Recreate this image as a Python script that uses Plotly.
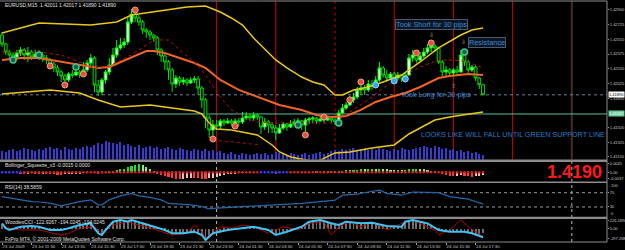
import plotly.graph_objects as go

# ---------------- data (EURUSD M15, 23-24 Jul 2009) ----------------
bars = list(range(131))
first_open = 1.42602
close = [1.42495, 1.42400, 1.42364, 1.42340, 1.42388, 1.42424, 1.42364, 1.42400, 1.42340, 1.42376,
         1.42364, 1.42329, 1.42305, 1.42257, 1.42210, 1.42162, 1.42114, 1.42067, 1.42138, 1.42126,
         1.42162, 1.42138, 1.42186, 1.42269, 1.42329, 1.42007, 1.41924, 1.42067, 1.42162, 1.42245,
         1.42364, 1.42448, 1.42483, 1.42519, 1.42757, 1.42852, 1.42805, 1.42757, 1.42662, 1.42638,
         1.42602, 1.42567, 1.42424, 1.42352, 1.42281, 1.42186, 1.42019, 1.42090, 1.42043, 1.42067,
         1.42031, 1.42067, 1.42079, 1.41971, 1.41829, 1.41614, 1.41471, 1.41531, 1.41519, 1.41579,
         1.41555, 1.41579, 1.41555, 1.41579, 1.41567, 1.41614, 1.41638, 1.41614, 1.41650, 1.41626,
         1.41507, 1.41567, 1.41531, 1.41495, 1.41436, 1.41495, 1.41543, 1.41507, 1.41543, 1.41567,
         1.41579, 1.41531, 1.41590, 1.41602, 1.41614, 1.41579, 1.41602, 1.41590, 1.41614, 1.41590,
         1.41567, 1.41674, 1.41733, 1.41769, 1.41829, 1.41864, 1.41948, 1.41971, 1.41948, 1.42019,
         1.41995, 1.42067, 1.42210, 1.42126, 1.42090, 1.42138, 1.42090, 1.42126, 1.42090, 1.42126,
         1.42329, 1.42364, 1.42305, 1.42352, 1.42400, 1.42448, 1.42471, 1.42448, 1.42281, 1.42162,
         1.42186, 1.42150, 1.42186, 1.42162, 1.42364, 1.42281, 1.42186, 1.42221, 1.42090, 1.42011,
         1.41890]
high = [1.42638, 1.42507, 1.42424, 1.42400, 1.42424, 1.42460, 1.42448, 1.42460, 1.42424, 1.42424,
        1.42424, 1.42400, 1.42364, 1.42329, 1.42281, 1.42245, 1.42186, 1.42138, 1.42162, 1.42186,
        1.42210, 1.42186, 1.42281, 1.42305, 1.42376, 1.42352, 1.42067, 1.42090, 1.42186, 1.42329,
        1.42448, 1.42543, 1.42567, 1.42567, 1.42805, 1.42912, 1.42900, 1.42840, 1.42781, 1.42686,
        1.42662, 1.42614, 1.42590, 1.42448, 1.42376, 1.42305, 1.42210, 1.42126, 1.42114, 1.42102,
        1.42090, 1.42102, 1.42114, 1.42114, 1.41995, 1.41852, 1.41650, 1.41590, 1.41590, 1.41602,
        1.41602, 1.41614, 1.41602, 1.41614, 1.41614, 1.41686, 1.41686, 1.41674, 1.41686, 1.41674,
        1.41638, 1.41614, 1.41590, 1.41567, 1.41531, 1.41543, 1.41567, 1.41555, 1.41590, 1.41602,
        1.41614, 1.41590, 1.41614, 1.41626, 1.41638, 1.41626, 1.41638, 1.41626, 1.41638, 1.41626,
        1.41626, 1.41710, 1.41781, 1.41805, 1.41876, 1.41912, 1.41983, 1.42043, 1.42007, 1.42067,
        1.42067, 1.42114, 1.42281, 1.42233, 1.42186, 1.42162, 1.42162, 1.42162, 1.42138, 1.42162,
        1.42376, 1.42424, 1.42388, 1.42400, 1.42448, 1.42495, 1.42519, 1.42495, 1.42460, 1.42305,
        1.42233, 1.42210, 1.42210, 1.42233, 1.42424, 1.42388, 1.42305, 1.42245, 1.42245, 1.42102,
        1.42017]
low = [1.42460, 1.42364, 1.42329, 1.42281, 1.42305, 1.42352, 1.42305, 1.42281, 1.42305, 1.42329,
       1.42305, 1.42281, 1.42257, 1.42210, 1.42162, 1.42114, 1.42043, 1.41971, 1.42043, 1.42090,
       1.42114, 1.42090, 1.42114, 1.42162, 1.42233, 1.41924, 1.41876, 1.41888, 1.42019, 1.42126,
       1.42233, 1.42329, 1.42424, 1.42448, 1.42483, 1.42733, 1.42757, 1.42710, 1.42614, 1.42567,
       1.42543, 1.42519, 1.42364, 1.42281, 1.42186, 1.42067, 1.41924, 1.41971, 1.41995, 1.42007,
       1.41995, 1.42019, 1.42031, 1.41888, 1.41733, 1.41495, 1.41376, 1.41340, 1.41471, 1.41471,
       1.41519, 1.41543, 1.41519, 1.41531, 1.41519, 1.41543, 1.41590, 1.41579, 1.41590, 1.41590,
       1.41424, 1.41471, 1.41436, 1.41436, 1.41352, 1.41424, 1.41471, 1.41460, 1.41495, 1.41519,
       1.41531, 1.41471, 1.41412, 1.41543, 1.41555, 1.41543, 1.41567, 1.41555, 1.41579, 1.41555,
       1.41531, 1.41519, 1.41662, 1.41710, 1.41757, 1.41793, 1.41840, 1.41888, 1.41888, 1.41924,
       1.41948, 1.41971, 1.42043, 1.42090, 1.42043, 1.42067, 1.42043, 1.42067, 1.42043, 1.42067,
       1.42114, 1.42281, 1.42269, 1.42281, 1.42329, 1.42376, 1.42400, 1.42400, 1.42257, 1.42114,
       1.42114, 1.42102, 1.42126, 1.42126, 1.42150, 1.42233, 1.42150, 1.42162, 1.42055, 1.41960,
       1.41890]
opens = [first_open] + close[:-1]

volume = [320, 280, 360, 400, 320, 360, 440, 400, 360, 320,
          400, 360, 440, 480, 400, 440, 360, 480, 400, 360,
          440, 400, 480, 520, 480, 560, 640, 600, 720, 680,
          640, 600, 680, 560, 600, 520, 480, 560, 440, 480,
          520, 440, 480, 400, 440, 480, 400, 360, 440, 400,
          360, 320, 400, 360, 320, 400, 320, 360, 280, 320,
          240, 200, 280, 200, 160, 240, 200, 160, 200, 240,
          200, 240, 160, 200, 280, 240, 200, 160, 240, 200,
          160, 200, 240, 160, 200, 240, 280, 200, 240, 320,
          360, 320, 400, 360, 400, 440, 360, 400, 440, 360,
          400, 360, 440, 400, 360, 320, 400, 360, 440, 400,
          360, 400, 440, 480, 520, 480, 440, 520, 480, 400,
          440, 360, 400, 320, 360, 280, 320, 240, 280, 200,
          160]

upper_i = [0, 10, 24, 31, 35, 45, 50, 55, 59, 62, 65, 68, 72, 74, 77, 81, 84, 87, 90, 92, 95, 99, 103, 108, 113, 118, 124, 127, 130]
upper_v = [1.42626, 1.42745, 1.42721, 1.42757, 1.42840, 1.42900, 1.42936, 1.42948, 1.42876, 1.42805, 1.42721, 1.42567,
           1.42400, 1.42305, 1.42210, 1.42102, 1.42043, 1.42007, 1.41888, 1.41888, 1.41948, 1.41983, 1.42043,
           1.42126, 1.42281, 1.42448, 1.42602, 1.42662, 1.42686]
lower_i = [0, 13, 21, 26, 32, 40, 46, 52, 54, 56, 58, 62, 69, 73, 75, 78, 85, 88, 90, 94, 100, 106, 110, 113, 117, 121, 127, 130]
lower_v = [1.41900, 1.41948, 1.41912, 1.41829, 1.41745, 1.41769, 1.41733, 1.41698, 1.41662, 1.41555, 1.41483, 1.41471,
           1.41412, 1.41293, 1.41210, 1.41150, 1.41090, 1.41150, 1.41198, 1.41210, 1.41257, 1.41293, 1.41424,
           1.41495, 1.41590, 1.41626, 1.41662, 1.41686]
mid_i = [0, 5, 10, 16, 21, 26, 29, 32, 35, 39, 41, 44, 48, 52, 55, 59, 64, 70, 75, 81, 85, 89, 93, 97, 101, 105, 109, 113, 118, 121, 126, 130]
mid_v = [1.42305, 1.42329, 1.42329, 1.42281, 1.42245, 1.42210, 1.42221, 1.42281, 1.42340, 1.42412, 1.42412, 1.42388,
         1.42329, 1.42269, 1.42210, 1.42067, 1.41948, 1.41852, 1.41769, 1.41710, 1.41650, 1.41626, 1.41638, 1.41710,
         1.41805, 1.41864, 1.41912, 1.41983, 1.42090, 1.42114, 1.42138, 1.42126]
ma_i = [0, 10, 16, 21, 25, 29, 35, 39, 41, 45, 48, 52, 55, 59, 62, 67, 72, 81, 87, 90, 94, 99, 103, 108, 113, 118, 122, 126, 130]
ma_v = [1.42400, 1.42400, 1.42364, 1.42281, 1.42210, 1.42233, 1.42364, 1.42483, 1.42543, 1.42543, 1.42424, 1.42281,
        1.42126, 1.41864, 1.41710, 1.41590, 1.41555, 1.41555, 1.41555, 1.41555, 1.41686, 1.41829, 1.41971, 1.42102,
        1.42221, 1.42305, 1.42305, 1.42281, 1.42210]
stop_i = [57, 70]
stop_v = [1.41352, 1.41293]

red_mk_i = [13, 17, 22, 36, 57, 63, 82, 87, 94, 97, 112, 116]
red_mk_v = [1.42233, 1.42007, 1.42138, 1.42900, 1.41364, 1.41519, 1.41412, 1.41626, 1.41829, 1.42043, 1.42388, 1.42507]
green_mk_i = [3, 10, 20, 80, 91, 125]
green_mk_v = [1.42305, 1.42364, 1.42221, 1.41531, 1.41555, 1.42400]
blue_mk_i = [101, 106, 109]
blue_mk_v = [1.42007, 1.42055, 1.42079]

current_price = 1.41890
support_price = 1.41662
red_vlines = [58, 74, 106, 122, 138]
red_dotted_vlines = [90]
day_separators = [58, 154]

squeeze = [-0.0003, -0.0002, -0.0003, -0.0004, -0.0003, -0.0005, -0.0006, -0.0005, -0.0004, -0.0006,
           -0.0008, -0.0007, -0.0009, -0.0011, -0.0012, -0.0013, -0.0014, -0.0012, -0.0010, -0.0008,
           -0.0007, -0.0005, -0.0004, -0.0003, -0.0002, -0.0004, -0.0006, -0.0004, -0.0002, 0.0002,
           0.0006, 0.0010, 0.0015, 0.0020, 0.0028, 0.0036, 0.0042, 0.0045, 0.0040, 0.0030,
           0.0018, 0.0006, -0.0006, -0.0014, -0.0022, -0.0028, -0.0033, -0.0036, -0.0037, -0.0035,
           -0.0033, -0.0032, -0.0033, -0.0034, -0.0035, -0.0036, -0.0034, -0.0030, -0.0026, -0.0020,
           -0.0015, -0.0011, -0.0008, -0.0006, -0.0004, -0.0003, -0.0003, -0.0002, -0.0002, -0.0003,
           -0.0004, -0.0003, -0.0003, -0.0004, -0.0005, -0.0004, -0.0003, -0.0003, -0.0002, -0.0002,
           -0.0002, -0.0001, -0.0001, 0.0001, 0.0001, 0.0002, 0.0001, 0.0002, 0.0002, 0.0003,
           0.0004, 0.0006, 0.0008, 0.0010, 0.0012, 0.0013, 0.0014, 0.0016, 0.0015, 0.0017,
           0.0018, 0.0016, 0.0019, 0.0017, 0.0015, 0.0014, 0.0012, 0.0013, 0.0011, 0.0012,
           0.0016, 0.0018, 0.0019, 0.0017, 0.0015, 0.0012, 0.0008, 0.0004, -0.0002, -0.0008,
           -0.0014, -0.0018, -0.0022, -0.0020, -0.0016, -0.0018, -0.0022, -0.0024, -0.0020, -0.0018,
           -0.0015]
squeeze_on = set(list(range(0, 6)) + list(range(70, 78)))

rsi_i = [0, 2, 5, 8, 10, 13, 16, 18, 21, 24, 26, 27, 29, 32, 35, 37, 40, 43, 45, 48, 51, 54, 56, 58, 62,
         67, 72, 76, 81, 84, 90, 92, 96, 99, 102, 104, 108, 111, 115, 118, 121, 124, 126, 128, 130]
rsi_v = [58.8, 55, 50, 45, 44, 41, 33, 38, 45, 50, 36, 36, 50, 61, 68, 61, 57, 50, 40, 38, 36, 31, 25, 27, 29,
         33, 35, 38, 40, 43, 49, 63, 66, 72, 77, 68, 63, 72, 72, 70, 59, 55, 52, 45, 38.6]

cci_hist = [150, 60, -30, 0, 40, 60, 70, 75, 80, 70, 60, 30, 0, -30, -40, -40, -40, -20, 10, 50,
            90, 110, 130, 150, 150, 20, -130, -180, -40, 100, 200, 230, 250, 220, 210, 250, 230, 200, 160, 120,
            90, 60, 30, 0, -40, -90, -130, -140, -135, -130, -110, -95, -90, -140, -190, -320, -250, -140, -100, -70,
            -50, -40, -20, 0, 10, 30, 50, 60, 55, 20, -20, -40, -60, -120, -180, -150, -100, -90, -40, 10,
            50, 60, 130, 200, 230, 250, 250, 220, 180, 150, 110, 110, 160, 200, 190, 180, 170, 160, 165, 170,
            175, 160, 130, 100, 80, 70, 65, 60, 60, 200, 230, 250, 230, 200, 180, 150, 100, 50, -40, -60,
            -80, -90, -90, -85, -90, -90, -100, -130, -160, -200, -123]
cci_i = [0, 1, 2, 5, 8, 10, 13, 16, 18, 21, 24, 26, 27, 28, 30, 32, 34, 35, 38, 41, 44, 46, 49, 52, 54,
         55, 57, 61, 64, 68, 72, 74, 77, 81, 83, 86, 89, 91, 93, 97, 100, 104, 108, 109, 111, 115, 118, 121, 125, 127, 130]
cci_v = [157, 12, -38, 58, 79, 58, -38, -38, 12, 108, 157, -134, -184, -38, 204, 254, 204, 254, 157, 58, -38, -134, -134, -87, -184,
         -329, -134, -38, 12, 58, -38, -184, -87, 58, 204, 254, 157, 108, 204, 157, 175, 79, 58, 204, 254, 157, -38, -87, -87, -134, -251]
tcci_i = [0, 2, 5, 10, 16, 18, 21, 25, 27, 30, 34, 35, 39, 43, 46, 50, 52, 54, 55, 59, 62, 65, 68, 72, 76,
          80, 83, 87, 89, 91, 94, 97, 100, 104, 107, 109, 111, 113, 117, 118, 121, 124, 126, 128, 130]
tcci_v = [108, 12, -38, -38, -184, -134, 12, 58, -134, 108, 204, 157, 58, -87, -184, -134, 108, -87, -280, 58, 12, 108, 58, -134, 58,
          -38, 157, 204, -184, 58, 204, 58, 204, -38, 108, 204, 254, 157, -38, -184, -38, 254, 58, -87, -233]

time_idx = [0, 8, 16, 24, 32, 40, 48, 56, 64, 72, 80, 88, 96, 104, 112, 120, 128]
time_lbl = ["23 Jul 2009", "23 Jul 11:30", "23 Jul 13:30", "23 Jul 15:30", "23 Jul 17:30", "23 Jul 19:30",
            "23 Jul 21:30", "23 Jul 23:30", "24 Jul 01:30", "24 Jul 03:30", "24 Jul 05:30", "24 Jul 07:30",
            "24 Jul 09:30", "24 Jul 11:30", "24 Jul 13:30", "24 Jul 15:30", "24 Jul 17:30"]
price_ticks = [1.42900, 1.42725, 1.42550, 1.42375, 1.42200, 1.42025, 1.41850, 1.41500, 1.41325, 1.41150]

# ---------------- layout helpers ----------------
W, H = 625, 250
PL, PR, PT, PB = 0, 607, 1, 242


def pxx(x):
    return (x - PL) / (PR - PL)


def pyy(y):
    return (PB - y) / (PB - PT)


dom_main = [pyy(159.5), 1.0]
dom_sq = [pyy(181.5), pyy(162)]
dom_rsi = [pyy(216.8), pyy(183)]
dom_cci = [0.0, pyy(219)]
XR = [-0.5405, 163.51]
FONT = "Liberation Sans, Arial, sans-serif"
LBL = "#c8c8c8"

fig = go.Figure()

# volumes (base axis of main window)
fig.add_trace(go.Bar(x=bars, y=volume, xaxis="x", yaxis="y", width=0.3,
                     marker=dict(color="#3a3ad0", line=dict(width=0))))
# bands and averages
fig.add_trace(go.Scatter(x=upper_i, y=upper_v, xaxis="x", yaxis="y5", mode="lines",
                         line=dict(color="#e8c81c", width=1.5)))
fig.add_trace(go.Scatter(x=lower_i, y=lower_v, xaxis="x", yaxis="y5", mode="lines",
                         line=dict(color="#e8c81c", width=1.5)))
fig.add_trace(go.Scatter(x=mid_i, y=mid_v, xaxis="x", yaxis="y5", mode="lines",
                         line=dict(color="#f06428", width=2)))
fig.add_trace(go.Scatter(x=ma_i, y=ma_v, xaxis="x", yaxis="y5", mode="lines",
                         line=dict(color="#c01010", width=1, dash="dot")))
fig.add_trace(go.Scatter(x=stop_i, y=stop_v, xaxis="x", yaxis="y5", mode="lines",
                         line=dict(color="#a01010", width=1, dash="dot")))
# candles
fig.add_trace(go.Candlestick(x=bars, open=opens, high=high, low=low, close=close,
                             xaxis="x", yaxis="y5", whiskerwidth=0,
                             increasing=dict(line=dict(color="#00ff00", width=1), fillcolor="#f4fff4"),
                             decreasing=dict(line=dict(color="#00e000", width=1), fillcolor="#000000")))
# signal markers
fig.add_trace(go.Scatter(x=red_mk_i, y=red_mk_v, xaxis="x", yaxis="y5", mode="markers",
                         marker=dict(size=6, color="#d9553f", line=dict(color="#ff9a88", width=1))))
fig.add_trace(go.Scatter(x=green_mk_i, y=green_mk_v, xaxis="x", yaxis="y5", mode="markers",
                         marker=dict(size=6, color="#1f5f4a", line=dict(color="#3fc48a", width=1.5))))
fig.add_trace(go.Scatter(x=blue_mk_i, y=blue_mk_v, xaxis="x", yaxis="y5", mode="markers",
                         marker=dict(size=6, color="#3aa6e8", line=dict(color="#8fd4ff", width=1))))

# Bollinger squeeze histogram
sq_col = []
for k, v in enumerate(squeeze):
    prev = squeeze[k - 1] if k > 0 else v
    if v >= 0:
        sq_col.append("#22dd22" if v >= prev else "#88ee88")
    else:
        sq_col.append("#ff3a3a" if v <= prev else "#ffb8b8")
fig.add_trace(go.Bar(x=bars, y=squeeze, xaxis="x2", yaxis="y2", width=0.55,
                     marker=dict(color=sq_col, line=dict(width=0))))
fig.add_trace(go.Scatter(x=bars, y=[0] * len(bars), xaxis="x2", yaxis="y2", mode="markers",
                         marker=dict(size=2.5, color=["#3a3aff" if k in squeeze_on else "#e02020" for k in bars])))

# RSI
fig.add_trace(go.Scatter(x=rsi_i, y=rsi_v, xaxis="x3", yaxis="y3", mode="lines",
                         line=dict(color="#2468a8", width=1.2)))

# Woodies CCI
fig.add_trace(go.Bar(x=bars, y=cci_hist, xaxis="x4", yaxis="y4", width=0.25,
                     marker=dict(color="#6e6e6e", line=dict(width=0))))
fig.add_trace(go.Scatter(x=tcci_i, y=tcci_v, xaxis="x4", yaxis="y4", mode="lines",
                         line=dict(color="#b80000", width=1)))
fig.add_trace(go.Scatter(x=cci_i, y=cci_v, xaxis="x4", yaxis="y4", mode="lines",
                         line=dict(color="#3cc4f4", width=2)))

tickfont = dict(family=FONT, size=4.0, color=LBL)
hidden_x = dict(range=XR, showgrid=False, zeroline=False, showticklabels=False, ticks="",
                showline=False, matches="x", automargin=False)


def yax(**kw):
    base = dict(side="right", showgrid=False, zeroline=False, tickmode="array", ticks="outside",
                ticklen=1, tickcolor="#a0a0a0", tickfont=tickfont, automargin=False)
    base.update(kw)
    return base


fig.update_layout(
    width=W, height=H, margin=dict(l=PL, r=W - PR, t=PT, b=H - PB, autoexpand=False),
    paper_bgcolor="#000000", plot_bgcolor="#000000", showlegend=False,
    font=dict(family=FONT, color=LBL), bargap=0, boxgap=0.25, boxgroupgap=0,
    xaxis=dict(range=XR, showgrid=False, zeroline=False, showticklabels=False, ticks="",
               showline=False, rangeslider=dict(visible=False), anchor="y", automargin=False),
    xaxis2=dict(hidden_x, anchor="y2"),
    xaxis3=dict(hidden_x, anchor="y3"),
    xaxis4=dict(range=XR, showgrid=False, zeroline=False, matches="x", anchor="y4",
                tickmode="array", tickvals=time_idx, ticktext=time_lbl, ticks="outside",
                ticklen=2, tickcolor="#a0a0a0", tickfont=dict(family=FONT, size=4.3, color=LBL),
                tickangle=0, ticklabelposition="outside right", showline=False, automargin=False),
    yaxis=dict(domain=dom_main, range=[0, 6300], visible=False, fixedrange=True),
    yaxis5=yax(overlaying="y", anchor="x", range=[1.41120, 1.43007], tickvals=price_ticks,
               ticktext=[f"{v:.5f}" for v in price_ticks]),
    yaxis2=yax(domain=dom_sq, anchor="x2", range=[-0.00507, 0.00559], tickvals=[0.0045, 0, -0.0037],
               ticktext=["0.0045", "0.00", "-0.0037"]),
    yaxis3=yax(domain=dom_rsi, anchor="x3", range=[2.5, 97.2], tickvals=[70, 30], ticktext=["70", "30"]),
    yaxis4=yax(domain=dom_cci, anchor="x4", range=[-388, 283], tickvals=[226.189, 0, -297.268],
               ticktext=["226.1890", "0.00", "-297.2680"]),
)

shapes = []
for v in red_vlines:
    shapes.append(dict(type="line", xref="x", yref="paper", x0=v, x1=v, y0=dom_main[0], y1=1,
                       line=dict(color="#d00000", width=1), layer="below"))
for v in red_dotted_vlines:
    shapes.append(dict(type="line", xref="x", yref="paper", x0=v, x1=v, y0=dom_main[0], y1=1,
                       line=dict(color="#d00000", width=1, dash="dot"), layer="below"))
shapes.append(dict(type="line", xref="x", yref="paper", x0=day_separators[1], x1=day_separators[1],
                   y0=dom_main[0], y1=1, line=dict(color="#4a2e18", width=2), layer="below"))
for v in day_separators:
    shapes.append(dict(type="line", xref="x", yref="paper", x0=v, x1=v, y0=0, y1=dom_sq[1],
                       line=dict(color="#b8b8b8", width=1, dash="dot"), layer="below"))
shapes.append(dict(type="line", xref="paper", yref="y5", x0=0, x1=1, y0=current_price, y1=current_price,
                   line=dict(color="#6c7c9c", width=1, dash="dot"), layer="below"))
shapes.append(dict(type="line", xref="paper", yref="y5", x0=0, x1=1, y0=support_price, y1=support_price,
                   line=dict(color="#5fbf9f", width=1), layer="below"))
for lv in [70, 30]:
    shapes.append(dict(type="line", xref="paper", yref="y3", x0=0, x1=1, y0=lv, y1=lv,
                       line=dict(color="#9a9a9a", width=1, dash="dot"), layer="below"))
# window separators and frame
for (a, b) in [(159.5, 162), (181.5, 183), (216.8, 219)]:
    shapes.append(dict(type="rect", xref="paper", yref="paper", x0=0, x1=1, y0=pyy(b), y1=pyy(a),
                       fillcolor="#8c8c8c", line=dict(width=0)))
shapes.append(dict(type="line", xref="paper", yref="paper", x0=1, x1=1, y0=0, y1=1,
                   line=dict(color="#8c8c8c", width=1)))
shapes.append(dict(type="line", xref="paper", yref="paper", x0=0, x1=1, y0=1, y1=1,
                   line=dict(color="#8c8c8c", width=1)))
shapes.append(dict(type="line", xref="paper", yref="paper", x0=0, x1=1, y0=0, y1=0,
                   line=dict(color="#8c8c8c", width=1)))
fig.update_layout(shapes=shapes)

small = dict(family=FONT, size=5, color="#e0e0e0")
ann = [
    dict(xref="paper", yref="paper", x=pxx(3), y=pyy(5), text="EURUSD,M15  1.42011 1.42017 1.41890 1.41890"),
    dict(xref="paper", yref="paper", x=pxx(3), y=pyy(165), text="Bollinger_Squeeze_v3 -0.0015 0.0000"),
    dict(xref="paper", yref="paper", x=pxx(3), y=pyy(187), text="RSI(14) 38.5859"),
    dict(xref="paper", yref="paper", x=pxx(3), y=pyy(222), text="WoodiesCCI -122.9267 -194.0245 -194.0245"),
    dict(xref="paper", yref="paper", x=pxx(3), y=pyy(238.5), text="FxPro MT4, © 2001-2009 MetaQuotes Software Corp."),
]
annotations = []
for a in ann:
    a.update(xanchor="left", yanchor="middle", showarrow=False, font=small)
    annotations.append(a)

annotations += [
    dict(xref="paper", yref="paper", x=1, xshift=2, y=pyy(186), text="100", xanchor="left",
         yanchor="middle", showarrow=False, font=tickfont),
    dict(xref="paper", yref="paper", x=1, xshift=2, y=pyy(213), text="0", xanchor="left",
         yanchor="middle", showarrow=False, font=tickfont),
    dict(xref="paper", yref="y5", x=1, xshift=1, y=current_price, text=f"{current_price:.5f}",
         xanchor="left", yanchor="middle", showarrow=False, bgcolor="#ffffff", borderpad=0,
         font=dict(family=FONT, size=4.0, color="#000000")),
    dict(xref="paper", yref="y5", x=1, xshift=1, y=support_price, text=f"{support_price:.5f}",
         xanchor="left", yanchor="middle", showarrow=False, bgcolor="#66cc99", borderpad=0,
         font=dict(family=FONT, size=4.0, color="#ffffff")),
    dict(xref="paper", yref="paper", x=pxx(574), y=pyy(172), text="<b>1.4190</b>", showarrow=False,
         xanchor="center", yanchor="middle",
         font=dict(family="Liberation Sans Narrow, Arial Narrow, Liberation Sans, Arial", size=18, color="#ff1a1a")),
]

blue_txt = "#3a8ad6"
annotations += [
    dict(xref="x", yref="y5", x=106.2, y=1.42727, text="Took Short for 30 pips", xanchor="left",
         yanchor="middle", showarrow=False, bgcolor="#0c1622", bordercolor="#4a5a6c", borderwidth=1,
         borderpad=0, font=dict(family=FONT, size=7.3, color=blue_txt)),
    dict(xref="x", yref="y5", x=126.0, y=1.42513, text="Resistance", xanchor="left",
         yanchor="middle", showarrow=False, bgcolor="#0c1622", bordercolor="#4a5a6c", borderwidth=1,
         borderpad=0, font=dict(family=FONT, size=7.3, color=blue_txt)),
    dict(xref="x", yref="y5", x=107.3, y=1.41895, text="Took Long for 20 pips", xanchor="left",
         yanchor="middle", showarrow=False, font=dict(family=FONT, size=7.3, color=blue_txt)),
    dict(xref="x", yref="y5", x=112.7, y=1.41418, text="LOOKS LIKE WILL FALL UNTIL GREEN SUPPORT LINE",
         xanchor="left", yanchor="middle", showarrow=False, font=dict(family=FONT, size=7.2, color="#2a7ccc")),
    dict(xref="x", yref="y5", x=116, y=1.42614, text="⇩", showarrow=False,
         font=dict(family="DejaVu Sans", size=6, color="#c0a060")),
    dict(xref="x", yref="y5", x=124.6, y=1.42519, text="⇩", showarrow=False,
         font=dict(family="DejaVu Sans", size=6, color="#c0a060")),
    dict(xref="x", yref="y5", x=121.9, y=1.42007, text="⇧", showarrow=False,
         font=dict(family="DejaVu Sans", size=6, color="#c0a060")),
]
fig.update_layout(annotations=annotations)

fig.write_html("out.html", config={"displayModeBar": False})
